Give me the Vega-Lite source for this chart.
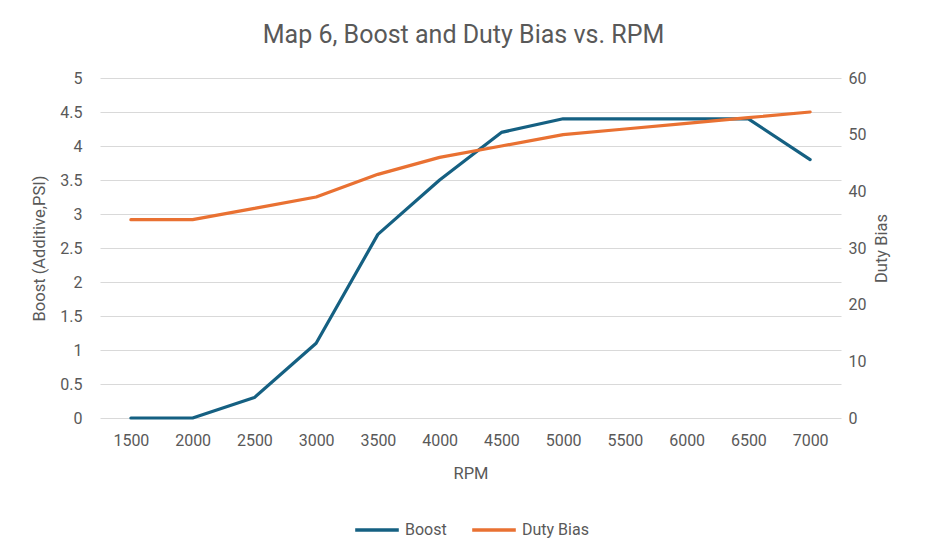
{
  "$schema": "https://vega.github.io/schema/vega-lite/v6.json",
  "autosize": {"type": "none"},
  "width": 741,
  "height": 340,
  "padding": {"left": 100, "top": 78, "right": 85, "bottom": 142},
  "background": "white",
  "config": {
    "view": {"stroke": null},
    "font": "Roboto",
    "axis": {"labelColor": "#595959", "titleColor": "#595959", "labelFontSize": 16, "titleFontSize": 16.5, "titleFontWeight": "normal", "labelFont": "Roboto", "titleFont": "Roboto"}
  },
  "title": {
    "text": "Map 6, Boost and Duty Bias vs. RPM",
    "font": "Roboto",
    "fontSize": 25,
    "fontWeight": "normal",
    "color": "#595959",
    "anchor": "middle",
    "dx": -7,
    "offset": 22
  },
  "data": {
    "values": [
      {"rpm": "1500", "boost": 0, "duty": 35},
      {"rpm": "2000", "boost": 0, "duty": 35},
      {"rpm": "2500", "boost": 0.3, "duty": 37},
      {"rpm": "3000", "boost": 1.1, "duty": 39},
      {"rpm": "3500", "boost": 2.7, "duty": 43},
      {"rpm": "4000", "boost": 3.5, "duty": 46},
      {"rpm": "4500", "boost": 4.2, "duty": 48},
      {"rpm": "5000", "boost": 4.4, "duty": 50},
      {"rpm": "5500", "boost": 4.4, "duty": 51},
      {"rpm": "6000", "boost": 4.4, "duty": 52},
      {"rpm": "6500", "boost": 4.4, "duty": 53},
      {"rpm": "7000", "boost": 3.8, "duty": 54}
    ]
  },
  "encoding": {
    "x": {
      "field": "rpm",
      "type": "ordinal",
      "sort": null,
      "scale": {"paddingInner": 0, "paddingOuter": 0},
      "axis": {"title": "RPM", "labelAngle": 0, "ticks": false, "domain": false, "labelPadding": 14, "titlePadding": 17}
    }
  },
  "layer": [
    {
      "mark": {"type": "line", "strokeWidth": 3.2, "strokeCap": "round", "strokeJoin": "round"},
      "encoding": {
        "y": {
          "field": "boost",
          "type": "quantitative",
          "scale": {"domain": [0, 5], "nice": false},
          "axis": {"title": "Boost (Additive,PSI)", "values": [0, 0.5, 1, 1.5, 2, 2.5, 3, 3.5, 4, 4.5, 5], "format": "~g", "ticks": false, "domain": false, "gridColor": "#d9d9d9", "gridWidth": 1, "labelPadding": 18, "titlePadding": 12}
        },
        "color": {
          "datum": "Boost",
          "type": "nominal",
          "scale": {"domain": ["Boost", "Duty Bias"], "range": ["#156082", "#E97132"]},
          "legend": {
            "title": null,
            "orient": "none",
            "direction": "horizontal",
            "legendX": 253,
            "legendY": 428,
            "symbolType": "stroke",
            "symbolSize": 1900,
            "symbolStrokeWidth": 3.5,
            "labelFontSize": 16,
            "labelColor": "#595959",
            "labelFont": "Roboto",
            "columnPadding": 18,
            "labelOffset": 4
          }
        }
      }
    },
    {
      "mark": {"type": "line", "strokeWidth": 3.2, "strokeCap": "round", "strokeJoin": "round"},
      "encoding": {
        "y": {
          "field": "duty",
          "type": "quantitative",
          "scale": {"domain": [0, 60], "nice": false},
          "axis": {"title": "Duty Bias", "orient": "right", "values": [0, 10, 20, 30, 40, 50, 60], "grid": false, "ticks": false, "domain": false, "labelPadding": 7, "titleAngle": -90, "titleBaseline": "top", "titlePadding": 8}
        },
        "color": {"datum": "Duty Bias", "type": "nominal"}
      }
    }
  ],
  "resolve": {"scale": {"y": "independent"}}
}
